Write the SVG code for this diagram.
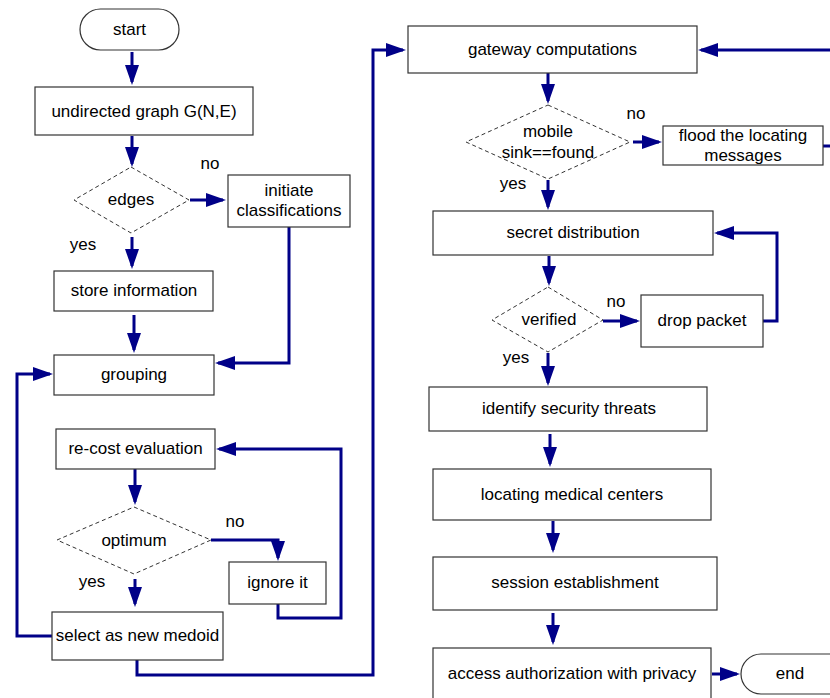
<svg xmlns="http://www.w3.org/2000/svg" width="830" height="698" viewBox="0 0 830 698">
<defs>
<style>
.box{fill:#fff;stroke:#333;stroke-width:1.2}
.dia{fill:#fff;stroke:#333;stroke-width:1;stroke-dasharray:4 3}
.t{font-family:"Liberation Sans",Arial,sans-serif;font-size:17px;fill:#000;text-anchor:middle;dominant-baseline:central}
.lbl{font-family:"Liberation Sans",Arial,sans-serif;font-size:17px;fill:#000;text-anchor:middle}
.c{fill:none;stroke:#000088;stroke-width:3;marker-end:url(#ah)}
</style>
<marker id="ah" markerUnits="userSpaceOnUse" markerWidth="22" markerHeight="14" refX="17" refY="7" orient="auto">
<path d="M0,0 L20,7 L0,14 z" fill="#000088"/>
</marker>
</defs>
<rect width="830" height="698" fill="#fff"/>

<g id="connectors">
<path class="c" d="M132,52 V82"/>
<path class="c" d="M132,136 V164"/>
<path class="c" d="M190,200 H223"/>
<path class="c" d="M132,237 V266"/>
<path class="c" d="M134,315 V350"/>
<path class="c" d="M289,227 V363 H218"/>
<path class="c" d="M52,636 H17 V374 H50"/>
<path class="c" d="M135,469 V502"/>
<path class="c" d="M211,540 H278 V558"/>
<path class="c" d="M278,604 V618 H341 V449 H219"/>
<path class="c" d="M135,579 V604"/>
<path class="c" d="M137,660 V675 H373 V50 H403"/>
<path class="c" d="M548,73 V101"/>
<path class="c" d="M633,142 H659"/>
<path class="c" d="M823,146 H840 V50 H701"/>
<path class="c" d="M548,180 V207"/>
<path class="c" d="M549,256 V283"/>
<path class="c" d="M603,321 H637"/>
<path class="c" d="M763,321 H777 V233 H717"/>
<path class="c" d="M548,353 V383"/>
<path class="c" d="M550,434 V464"/>
<path class="c" d="M553,521 V550"/>
<path class="c" d="M553,613 V642"/>
<path class="c" d="M712,674 H737"/>
</g>

<g id="start">
<rect class="box" x="80" y="9" width="99" height="41" rx="20.5"/>
<text class="t" x="129.5" y="29.5">start</text>
</g>
<g id="undirected">
<rect class="box" x="35" y="87" width="218" height="48"/>
<text class="t" x="144" y="111">undirected graph G(N,E)</text>
</g>
<g id="edges">
<polygon class="dia" points="131,167 189,200 131,233 74,200"/>
<text class="t" x="131" y="199">edges</text>
</g>
<g id="initiate">
<rect class="box" x="228" y="175" width="122" height="52"/>
<text class="t" x="289" y="190">initiate</text>
<text class="t" x="289" y="210">classifications</text>
</g>
<g id="store">
<rect class="box" x="54" y="271" width="159" height="40"/>
<text class="t" x="134" y="290">store information</text>
</g>
<g id="grouping">
<rect class="box" x="54" y="355" width="160" height="40"/>
<text class="t" x="134" y="374">grouping</text>
</g>
<g id="recost">
<rect class="box" x="56" y="429" width="159" height="40"/>
<text class="t" x="135.5" y="448">re-cost evaluation</text>
</g>
<g id="optimum">
<polygon class="dia" points="134,507 211,540 134,574 57,540"/>
<text class="t" x="134" y="540">optimum</text>
</g>
<g id="ignore">
<rect class="box" x="229" y="562" width="97" height="42"/>
<text class="t" x="277.5" y="582">ignore it</text>
</g>
<g id="select">
<rect class="box" x="52" y="612" width="171" height="48"/>
<text class="t" x="137.5" y="635">select as new medoid</text>
</g>

<g id="gateway">
<rect class="box" x="408" y="26" width="289" height="47"/>
<text class="t" x="552.5" y="49">gateway computations</text>
</g>
<g id="mobile">
<polygon class="dia" points="548,105 630,142 548,179 466,142"/>
<text class="t" x="548" y="131">mobile</text>
<text class="t" x="548" y="152">sink==found</text>
</g>
<g id="flood">
<rect class="box" x="663" y="126" width="160" height="39"/>
<text class="t" x="743" y="135">flood the locating</text>
<text class="t" x="743" y="155">messages</text>
</g>
<g id="secret">
<rect class="box" x="433" y="211" width="280" height="44"/>
<text class="t" x="573" y="232">secret distribution</text>
</g>
<g id="verified">
<polygon class="dia" points="548,287 603,320 548,352 492,320"/>
<text class="t" x="549" y="319">verified</text>
</g>
<g id="drop">
<rect class="box" x="641" y="295" width="122" height="52"/>
<text class="t" x="702" y="320">drop packet</text>
</g>
<g id="identify">
<rect class="box" x="429" y="387" width="278" height="44"/>
<text class="t" x="569" y="408">identify security threats</text>
</g>
<g id="locating">
<rect class="box" x="433" y="469" width="278" height="51"/>
<text class="t" x="572" y="494">locating medical centers</text>
</g>
<g id="session">
<rect class="box" x="433" y="557" width="284" height="53"/>
<text class="t" x="575" y="582">session establishment</text>
</g>
<g id="access">
<rect class="box" x="433" y="648" width="278" height="62"/>
<text class="t" x="572" y="673">access authorization with privacy</text>
</g>
<g id="end">
<rect class="box" x="741" y="654" width="110" height="40" rx="20"/>
<text class="t" x="790" y="673">end</text>
</g>

<g id="labels">
<text class="lbl" x="210" y="169">no</text>
<text class="lbl" x="83" y="250">yes</text>
<text class="lbl" x="235" y="527">no</text>
<text class="lbl" x="92" y="587">yes</text>
<text class="lbl" x="636" y="119">no</text>
<text class="lbl" x="513" y="189">yes</text>
<text class="lbl" x="616" y="307">no</text>
<text class="lbl" x="516" y="363">yes</text>
</g>
</svg>
